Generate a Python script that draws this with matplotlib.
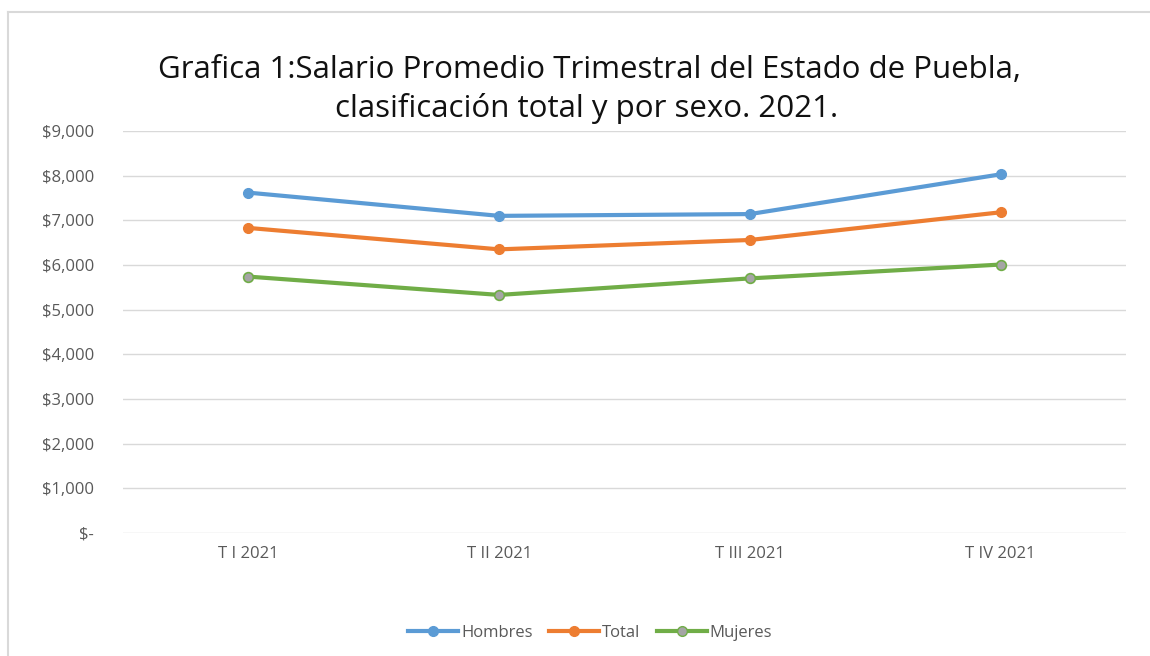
import matplotlib
matplotlib.use("Agg")
import matplotlib.pyplot as plt
from matplotlib.lines import Line2D
from matplotlib.ticker import FuncFormatter

categories = ["T I 2021", "T II 2021", "T III 2021", "T IV 2021"]
hombres = [7620, 7100, 7140, 8030]
total = [6830, 6350, 6560, 7180]
mujeres = [5740, 5330, 5700, 6010]
series_names = ["Hombres", "Total", "Mujeres"]
yticks = [0, 1000, 2000, 3000, 4000, 5000, 6000, 7000, 8000, 9000]

plt.rcParams['font.family'] = ['Open Sans', 'DejaVu Sans']

fig = plt.figure(figsize=(11.5, 6.56), dpi=100)
ax = fig.add_axes([123/1150, 1-533/656, (1126-123)/1150, (533-131)/656])

x = list(range(len(categories)))
c_h, c_t, c_m = "#5B9BD5", "#ED7D31", "#70AD47"
ax.plot(x, hombres, color=c_h, lw=3, marker='o', ms=7, mfc=c_h, mec=c_h, zorder=3)
ax.plot(x, total, color=c_t, lw=3, marker='o', ms=7, mfc=c_t, mec=c_t, zorder=3)
ax.plot(x, mujeres, color=c_m, lw=3, marker='o', ms=7, mfc="#A5A5A5", mec=c_m, mew=1.2, zorder=3)

ax.set_xlim(-0.5, len(categories) - 0.5)
ax.set_ylim(0, 9000)
ax.set_yticks(yticks)
ax.yaxis.set_major_formatter(FuncFormatter(lambda v, p: "$-" if v == 0 else "${:,.0f}".format(v)))
ax.set_xticks(x)
ax.set_xticklabels(categories)
ax.grid(axis='y', color="#D9D9D9", lw=1)
ax.set_axisbelow(True)
for s in ax.spines.values():
    s.set_visible(False)
ax.tick_params(axis='both', length=0, labelsize=12, labelcolor="#595959")
ax.tick_params(axis='y', pad=21)
ax.tick_params(axis='x', pad=9)

fig.text(590/1150, 1-70/656, "Grafica 1:Salario Promedio Trimestral del Estado de Puebla,",
         ha='center', va='center', fontsize=22.5, color="#111111")
fig.text(587/1150, 1-108/656, "clasificación total y por sexo. 2021.",
         ha='center', va='center', fontsize=22.5, color="#111111")

handles = [
    Line2D([], [], color=c_h, lw=3, marker='o', ms=7, mfc=c_h, mec=c_h),
    Line2D([], [], color=c_t, lw=3, marker='o', ms=7, mfc=c_t, mec=c_t),
    Line2D([], [], color=c_m, lw=3, marker='o', ms=7, mfc="#A5A5A5", mec=c_m),
]
leg = fig.legend(handles, series_names, loc='center', bbox_to_anchor=(590/1150, 1-633/656),
                 ncol=3, frameon=False, fontsize=12, handlelength=3.0, columnspacing=1.0,
                 handletextpad=0.15)
for t in leg.get_texts():
    t.set_color("#595959")

# chart border (top and left)
fig.add_artist(Line2D([8/1150, 8/1150], [0, 1-12/656], transform=fig.transFigure, color="#D9D9D9", lw=1.5))
fig.add_artist(Line2D([8/1150, 1], [1-12/656, 1-12/656], transform=fig.transFigure, color="#D9D9D9", lw=1.5))

fig.savefig("out.png", dpi=100, facecolor="white")
